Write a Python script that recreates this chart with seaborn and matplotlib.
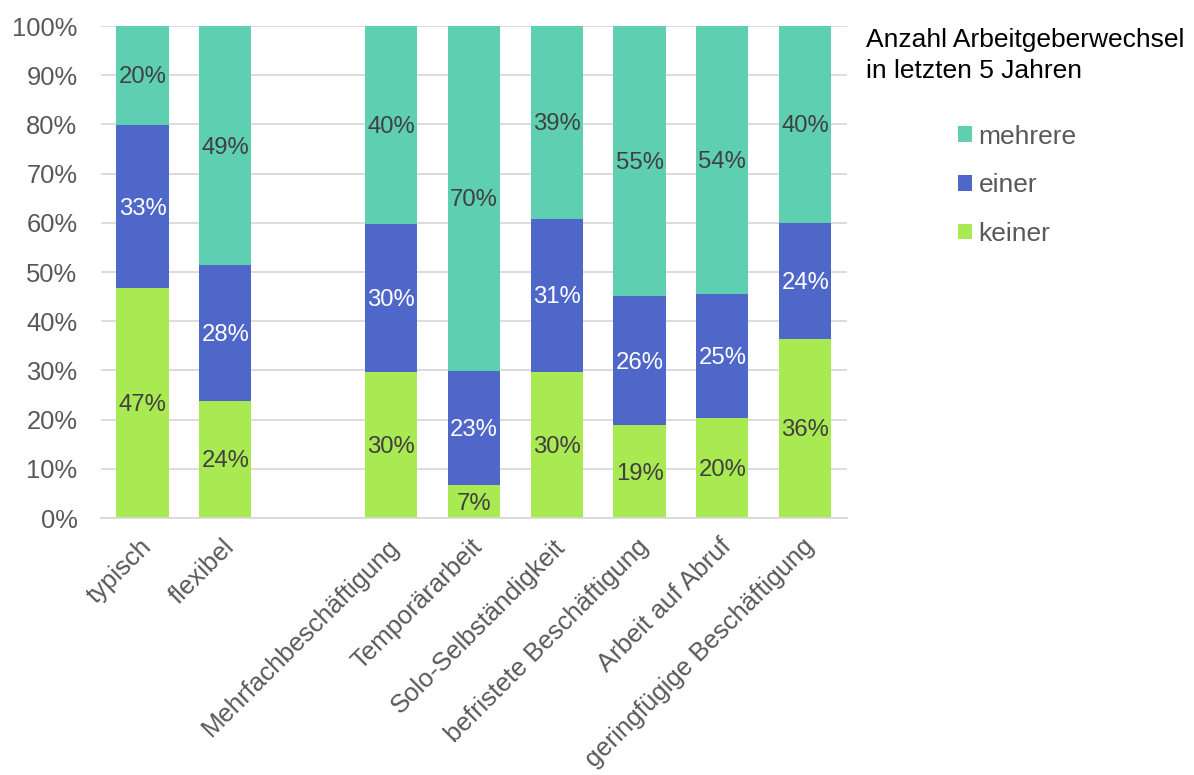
import matplotlib
matplotlib.use("Agg")
import matplotlib.pyplot as plt
from matplotlib.patches import Patch
from matplotlib.transforms import ScaledTranslation
import numpy as np
import pandas as pd
import seaborn as sns

# Employment forms (blank entry leaves a gap between the two groups)
categories = ["typisch", "flexibel", "", "Mehrfachbeschäftigung", "Temporärarbeit",
              "Solo-Selbständigkeit", "befristete Beschäftigung", "Arbeit auf Abruf",
              "geringfügige Beschäftigung"]
groups = [c for c in categories if c]

# Share of employees by number of employer changes in the last 5 years (%)
keiner = [46.7, 23.8, 29.7, 6.7, 29.7, 18.9, 20.4, 36.4]
einer = [33.2, 27.6, 30.1, 23.2, 31.1, 26.2, 25.2, 23.6]
mehrere = [20.1, 48.6, 40.2, 70.1, 39.2, 54.9, 54.4, 40.0]

series = [("keiner", keiner), ("einer", einer), ("mehrere", mehrere)]
colors = {"keiner": "#a9e952", "einer": "#4f67c9", "mehrere": "#5ecfb1"}
label_colors = {"keiner": "#404040", "einer": "white", "mehrere": "#404040"}

sns.set_theme(style="white")
plt.rcParams["font.family"] = ["Liberation Sans", "DejaVu Sans"]

df = pd.DataFrame({"kategorie": groups, "keiner": keiner, "einer": einer, "mehrere": mehrere})
df["k_e"] = df["keiner"] + df["einer"]
df["total"] = df["k_e"] + df["mehrere"]

fig = plt.figure(figsize=(11.94, 7.75), dpi=100)
ax = fig.add_axes([0.0846, 0.3316, 0.6245, 0.6348])

bar_w = 0.63
# Stacked bars drawn from the tallest cumulative total down
for col, name in [("total", "mehrere"), ("k_e", "einer"), ("keiner", "keiner")]:
    sns.barplot(data=df, x="kategorie", y=col, order=categories, color=colors[name],
                saturation=1, width=bar_w, ax=ax, edgecolor="none", errorbar=None)

# Segment value labels
pos = {c: i for i, c in enumerate(categories)}
down = ScaledTranslation(0, -2 / 100, fig.dpi_scale_trans)
for gi, g in enumerate(groups):
    bottom = 0.0
    for name, vals in series:
        v = vals[gi]
        ax.text(pos[g], bottom + v / 2, f"{round(v):d}%", ha="center", va="center",
                fontsize=17.2, color=label_colors[name], transform=ax.transData + down)
        bottom += v

ax.set_ylim(0, 100)
ax.set_xlim(-0.5, len(categories) - 0.5)
ax.set_yticks(np.arange(0, 101, 10))
ax.set_yticklabels([f"{t}%" for t in range(0, 101, 10)], fontsize=18.4, color="#595959")
ax.set_xlabel("")
ax.set_ylabel("")
ax.yaxis.grid(True, color="#d9d9d9", linewidth=1.3)
ax.set_axisbelow(True)
for s in ["left", "right", "top"]:
    ax.spines[s].set_visible(False)
ax.spines["bottom"].set_color("#d9d9d9")
ax.spines["bottom"].set_linewidth(1.3)
ax.tick_params(axis="y", length=0, pad=17)
ax.tick_params(axis="x", length=0, pad=18)
shift = ScaledTranslation(5 / 100, 0, fig.dpi_scale_trans)
for lbl in ax.get_xticklabels():
    lbl.set_rotation(45)
    lbl.set_ha("right")
    lbl.set_va("center")
    lbl.set_rotation_mode("anchor")
    lbl.set_fontsize(18.5)
    lbl.set_color("#595959")
    lbl.set_transform(lbl.get_transform() + shift)

# Legend with title placed on its own
fig.text(0.725, 0.964, "Anzahl Arbeitgeberwechsel\nin letzten 5 Jahren", ha="left", va="top",
         fontsize=19, color="black", linespacing=1.37)
handles = [Patch(facecolor=colors[n], edgecolor="none", label=n) for n in ["mehrere", "einer", "keiner"]]
leg = fig.legend(handles=handles, loc="upper left", bbox_to_anchor=(0.802, 0.839), frameon=False,
                 fontsize=19, handlelength=0.55, handleheight=0.55, handletextpad=0.25,
                 labelspacing=0.93, borderaxespad=0, borderpad=0)
for t in leg.get_texts():
    t.set_color("#595959")

fig.savefig("out.png", dpi=100)
